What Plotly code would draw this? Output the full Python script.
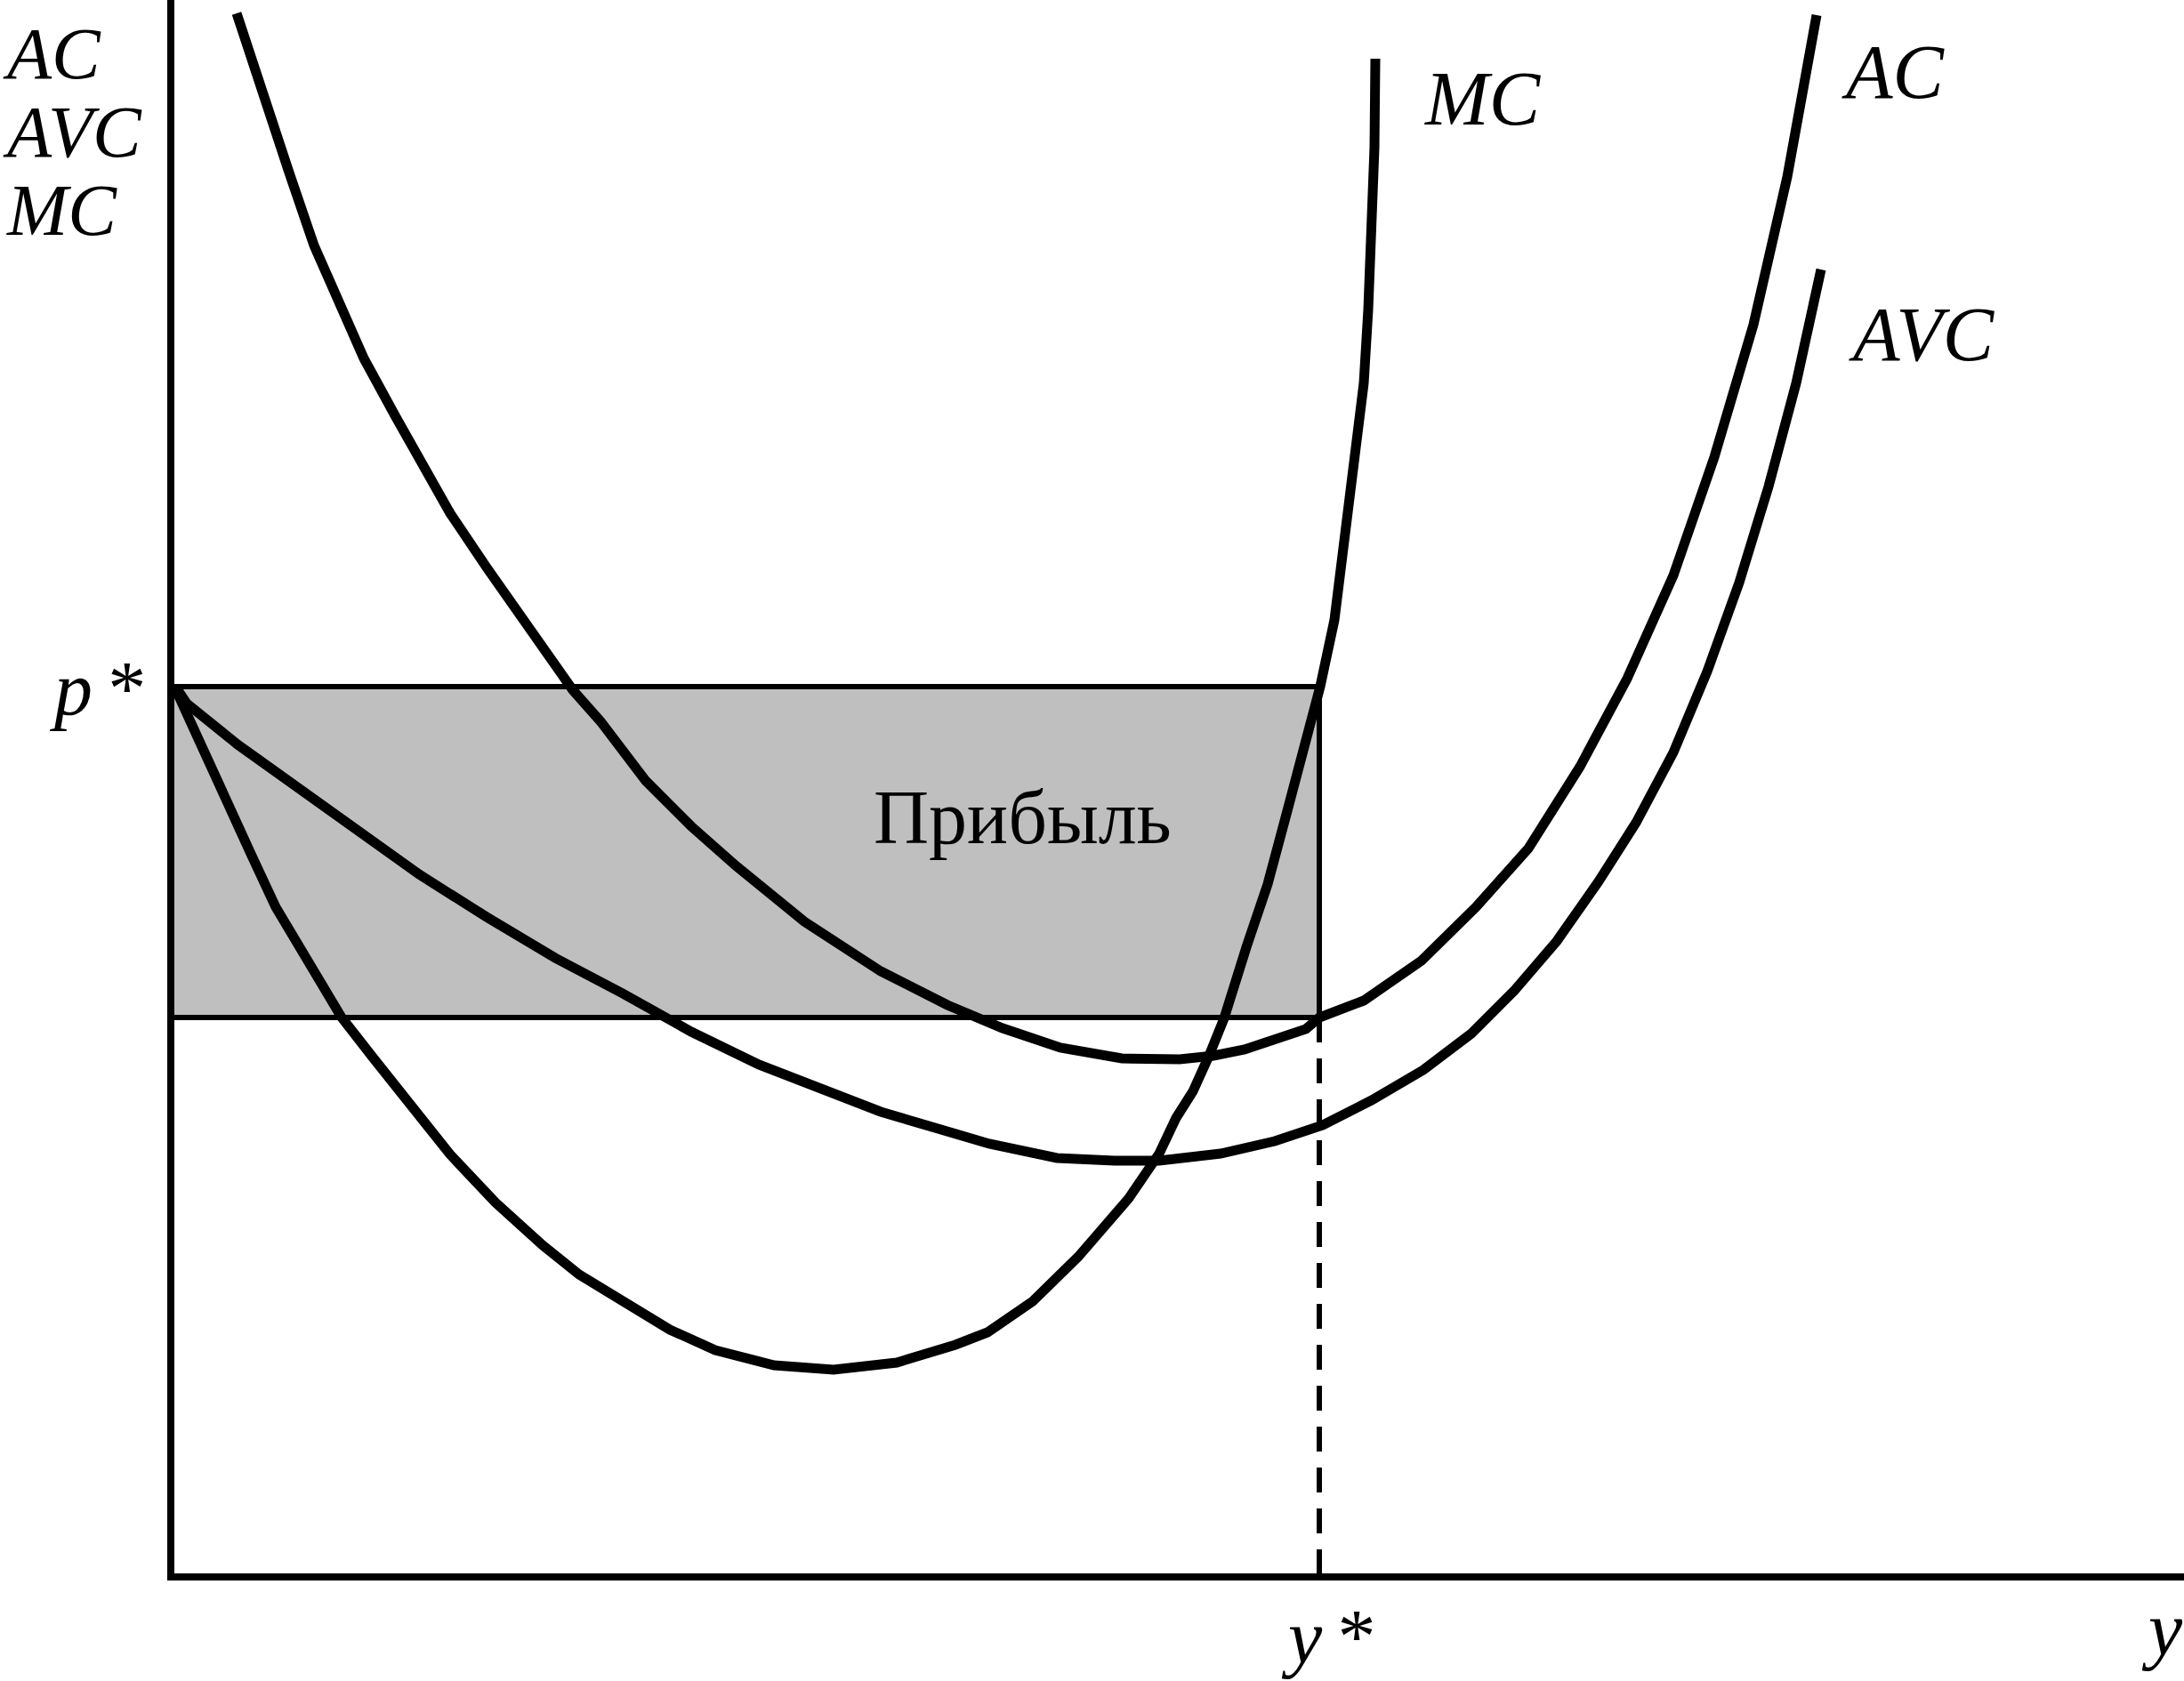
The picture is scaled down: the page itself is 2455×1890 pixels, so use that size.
import plotly.graph_objects as go

# ---- data (x: output y, y: cost) ----
p_star = 10.01
y_star = 12.91
ac_at_ystar = 6.29

mc_x = [0.05, 0.29, 0.59, 0.90, 1.18, 1.53, 1.92, 2.28, 2.74, 3.14, 3.65, 4.18, 4.59, 5.10, 5.61,
        6.12, 6.78, 7.45, 8.16, 8.82, 9.18, 9.69, 10.20, 10.77, 11.11, 11.30, 11.49, 11.67, 11.84,
        12.09, 12.33, 12.56, 12.92, 13.08, 13.18, 13.29, 13.41, 13.46, 13.50, 13.53, 13.54]
mc_y = [9.99, 9.46, 8.75, 8.13, 7.53, 6.95, 6.29, 5.83, 5.23, 4.75, 4.21, 3.73, 3.40, 3.10, 2.78,
        2.55, 2.38, 2.33, 2.41, 2.61, 2.75, 3.10, 3.60, 4.26, 4.76, 5.16, 5.46, 5.86, 6.28,
        7.08, 7.79, 8.65, 10.01, 10.76, 11.59, 12.59, 13.42, 14.25, 15.24, 16.07, 17.07]

ac_x = [0.74, 1.05, 1.33, 1.61, 1.87, 2.17, 2.53, 2.84, 3.14, 3.55, 4.06, 4.52, 4.83, 5.34, 5.85,
        6.36, 7.12, 7.98, 8.73, 9.35, 10.00, 10.69, 11.34, 11.72, 12.07, 12.76, 12.91, 13.41, 14.06,
        14.67, 15.26, 15.84, 16.37, 16.89, 17.35, 17.79, 18.17, 18.50]
ac_y = [17.58, 16.61, 15.79, 14.97, 14.36, 13.70, 13.04, 12.47, 11.96, 11.35, 10.64, 9.97, 9.62, 8.95, 8.44,
        7.99, 7.37, 6.81, 6.43, 6.17, 5.95, 5.83, 5.82, 5.86, 5.93, 6.16, 6.29, 6.48, 6.93,
        7.53, 8.19, 9.11, 10.10, 11.26, 12.59, 14.08, 15.74, 17.56]

avc_x = [0.08, 0.18, 0.75, 1.28, 2.12, 2.79, 3.55, 4.32, 5.08, 5.85, 6.61, 7.28, 7.98, 9.20, 9.58,
         9.96, 10.61, 11.11, 11.80, 12.41, 12.95, 13.50, 14.08, 14.62, 15.10, 15.58, 16.05, 16.47,
         16.89, 17.27, 17.63, 17.96, 18.27, 18.55]
avc_y = [9.97, 9.82, 9.36, 8.98, 8.39, 7.90, 7.42, 6.96, 6.56, 6.13, 5.76, 5.49, 5.23, 4.87, 4.78,
         4.71, 4.68, 4.68, 4.76, 4.90, 5.08, 5.36, 5.70, 6.11, 6.59, 7.15, 7.82, 8.48,
         9.27, 10.18, 11.18, 12.26, 13.42, 14.70]

axis_x_max = 22.63
axis_y_max = 17.73

FONT = "Liberation Serif, Times New Roman, serif"
CURVE_W = 11

fig = go.Figure()
for xs, ys in [(mc_x, mc_y), (ac_x, ac_y), (avc_x, avc_y)]:
    fig.add_trace(go.Scatter(x=xs, y=ys, mode="lines",
                             line=dict(color="black", width=CURVE_W),
                             hoverinfo="skip", showlegend=False))

# profit rectangle
fig.add_shape(type="rect", x0=0, x1=y_star, y0=ac_at_ystar, y1=p_star,
              fillcolor="#bfbfbf", line=dict(color="black", width=6), layer="below")
# dashed line from AC(y*) down to axis
fig.add_shape(type="line", x0=y_star, y0=ac_at_ystar, x1=y_star, y1=0,
              line=dict(color="black", width=6, dash="28px,18px"))
# axes
fig.add_shape(type="line", x0=0, y0=-0.04, x1=0, y1=axis_y_max,
              line=dict(color="black", width=8))
fig.add_shape(type="line", x0=-0.04, y0=0, x1=axis_x_max, y1=0,
              line=dict(color="black", width=8))

def label(text, x, y, size=86, height=None):
    fig.add_annotation(x=x, y=y, text=text, showarrow=False, xanchor="left", yanchor="middle",
                       height=height, valign="middle", borderpad=0, borderwidth=0,
                       font=dict(family=FONT, size=size, color="black"))

label("<i>AC</i>", -1.89, 17.13, size=82, height=76)
label("<i>AVC</i>", -1.89, 16.25, size=82, height=76)
label("<i>MC</i>", -1.85, 15.37, size=82, height=76)
label("<i>p</i>\u2009*", -1.37, 9.99)
label("<i>MC</i>", 14.08, 16.62)
label("<i>AC</i>", 18.78, 16.92)
label("<i>AVC</i>", 18.86, 13.97)
label("Прибыль", 7.90, 8.54)
label("<i>y</i>\u2009*", 12.48, -0.67)
label("<i>y</i>", 22.15, -0.58)

fig.update_layout(
    width=2455, height=1890,
    margin=dict(l=0, r=0, t=0, b=0),
    paper_bgcolor="white", plot_bgcolor="white",
    xaxis=dict(range=[-1.92, axis_x_max], visible=False, fixedrange=True),
    yaxis=dict(range=[-1.17, axis_y_max], visible=False, fixedrange=True),
    showlegend=False,
)

fig.write_html("out.html", config={"displayModeBar": False},
               post_script="document.body.style.margin='0';document.body.style.overflow='hidden';")
